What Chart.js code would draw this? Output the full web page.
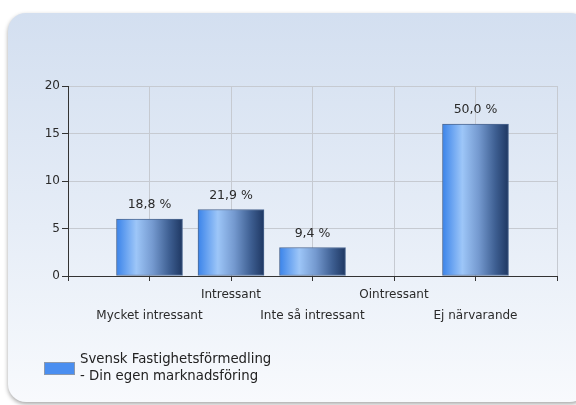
<!DOCTYPE html>
<html><head><meta charset="utf-8">
<script src="https://cdn.jsdelivr.net/npm/chart.js@4/dist/chart.umd.min.js"></script>
<style>html,body{margin:0;padding:0;background:#fff;overflow:hidden;}#wrap{width:576px;height:405px;position:relative;}</style>
</head><body><div id="wrap"><canvas id="c" width="576" height="405"></canvas></div>
<script>
// ---- data ----
const categories = ['Mycket intressant', 'Intressant', 'Inte så intressant', 'Ointressant', 'Ej närvarande'];
const counts = [6, 7, 3, 0, 16];
const percentLabels = ['18,8 %', '21,9 %', '9,4 %', '', '50,0 %'];
const yMin = 0, yMax = 20, yStep = 5;
const seriesLines = ['Svensk Fastighetsförmedling', '- Din egen marknadsföring'];

// padded with empty slots so the axis extends one category beyond each end
const labels = [''].concat(categories, ['']);
const values = [null].concat(counts, [null]);
const pctPadded = [''].concat(percentLabels, ['']);

const FONT = 'DejaVu Sans';

const panelPlugin = {
  id: 'panel',
  beforeDraw(chart) {
    const c = chart.ctx;
    c.save();
    const x = 8, y = 13, w = 580, h = 389, r = 18;
    c.shadowColor = 'rgba(0,0,0,0.35)';
    c.shadowBlur = 4;
    c.shadowOffsetX = 0;
    c.shadowOffsetY = 2;
    const g = c.createLinearGradient(0, y, 0, y + h);
    g.addColorStop(0, '#d3dff0');
    g.addColorStop(0.55, '#e6edf7');
    g.addColorStop(1, '#f8fafd');
    c.fillStyle = g;
    c.beginPath();
    c.roundRect(x, y, w, h, r);
    c.fill();
    c.restore();
  }
};

const valueLabelPlugin = {
  id: 'valueLabels',
  afterDatasetsDraw(chart) {
    const c = chart.ctx;
    const meta = chart.getDatasetMeta(0);
    c.save();
    c.font = '12.5px "' + FONT + '"';
    c.fillStyle = '#2a2a2a';
    c.textAlign = 'center';
    c.textBaseline = 'middle';
    meta.data.forEach((bar, i) => {
      const t = pctPadded[i];
      if (!t || values[i] == null) return;
      c.fillText(t, bar.x, bar.y - 14);
    });
    c.restore();
  }
};

const legendPlugin = {
  id: 'customLegend',
  afterDraw(chart) {
    const c = chart.ctx;
    const ds = chart.data.datasets[0];
    c.save();
    c.fillStyle = '#4a8ef0';
    c.fillRect(44, 362, 31, 13);
    c.strokeStyle = '#8c99ad';
    c.lineWidth = 1;
    c.strokeRect(44.5, 362.5, 30, 12);
    c.font = '13.3px "' + FONT + '"';
    c.fillStyle = '#222';
    c.textAlign = 'left';
    c.textBaseline = 'middle';
    ds.labelLines.forEach((line, i) => c.fillText(line, 80, 360 + i * 16.5));
    c.restore();
  }
};

function barGradient(ctx) {
  const chart = ctx.chart;
  const xs = chart.scales && chart.scales.x;
  if (!xs || ctx.dataIndex == null) return '#4a8ef0';
  const cx = xs.getPixelForValue(ctx.dataIndex);
  if (!isFinite(cx)) return '#4a8ef0';
  const half = 33;
  const g = chart.ctx.createLinearGradient(cx - half, 0, cx + half, 0);
  g.addColorStop(0, '#3b84ea');
  g.addColorStop(0.3, '#9dc6f8');
  g.addColorStop(0.55, '#7499cf');
  g.addColorStop(0.8, '#3e5f92');
  g.addColorStop(1, '#1e3762');
  return g;
}

new Chart(document.getElementById('c'), {
  type: 'bar',
  data: {
    labels: labels,
    datasets: [{
      label: seriesLines.join(' '),
      labelLines: seriesLines,
      data: values,
      backgroundColor: barGradient,
      borderColor: '#4d6891',
      borderWidth: 1,
      borderSkipped: false,
      barThickness: 66
    }]
  },
  options: {
    responsive: false,
    animation: false,
    devicePixelRatio: 1,
    layout: { padding: { top: 86, right: 19, left: 0, bottom: 0 } },
    plugins: { legend: { display: false }, tooltip: { enabled: false } },
    scales: {
      x: {
        type: 'category',
        offset: false,
        grid: { offset: false, color: '#c6cad1', tickColor: '#333', tickLength: 5, lineWidth: 1 },
        border: { color: '#333', width: 1 },
        ticks: {
          autoSkip: false, maxRotation: 0, minRotation: 0, padding: 4,
          color: '#2a2a2a',
          font: { family: FONT, size: 12, lineHeight: 1.7 },
          callback: (v, i) => {
            const l = labels[i];
            if (!l) return '';
            return (i % 2 === 1) ? ['', l] : l;
          }
        },
        afterFit: s => { s.height = 129; }
      },
      y: {
        min: yMin, max: yMax,
        grid: { color: '#c6cad1', tickColor: '#333', tickLength: 6 },
        border: { color: '#333', width: 1 },
        ticks: { stepSize: yStep, padding: 2, color: '#2a2a2a', font: { family: FONT, size: 12 } },
        afterFit: s => { s.width = 68; }
      }
    }
  },
  plugins: [panelPlugin, valueLabelPlugin, legendPlugin]
});
</script></body></html>
